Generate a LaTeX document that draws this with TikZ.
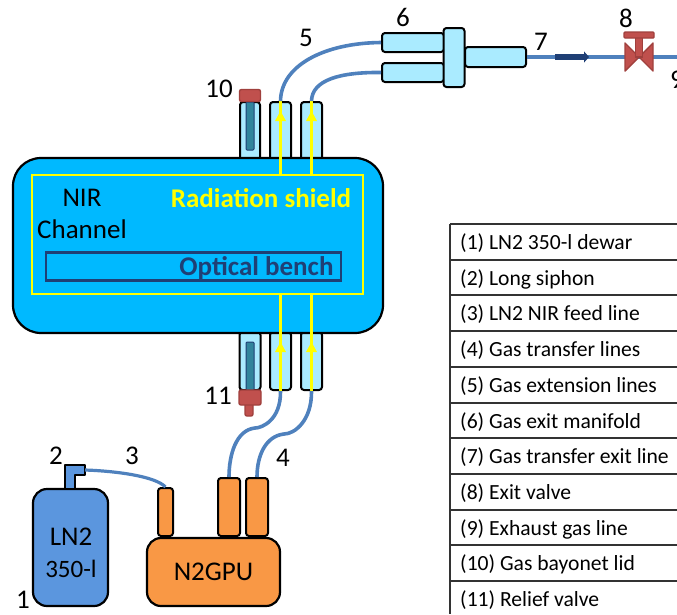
\documentclass[tikz,border=0pt]{standalone}
\usepackage{fontspec}
\setmainfont{Carlito}
\usetikzlibrary{arrows.meta}
\definecolor{bodyc}{HTML}{00B9FF}
\definecolor{stubc}{HTML}{AAEBFF}
\definecolor{pipec}{HTML}{4F81BD}
\definecolor{dewarc}{HTML}{5B96DE}
\definecolor{orangec}{HTML}{F99845}
\definecolor{redc}{HTML}{C0504D}
\definecolor{redd}{HTML}{A0403D}
\definecolor{tealc}{HTML}{31859C}
\definecolor{navyc}{HTML}{1F3F75}
\definecolor{yellowc}{HTML}{FFFF00}
\tikzset{
  x=1pt,y=-1pt,
  box/.style={draw=black,line width=2pt,rounded corners=#1},
  box/.default=3pt,
  stubbox/.style={box,fill=stubc},
  orangebox/.style={box,fill=orangec},
  pipe/.style={draw=pipec,line width=3.6pt},
  thinpipe/.style={draw=pipec,line width=3.2pt},
  shield/.style={draw=yellowc,line width=2.8pt},
  yhead/.style={fill=yellowc,draw=none},
  redpart/.style={fill=redc,draw=redd,line width=1.4pt},
  tealpart/.style={fill=tealc,draw=navyc,line width=1pt},
  lbl/.style={font=\fontsize{27}{31}\selectfont,inner sep=0pt,text=black},
  rowtxt/.style={font=\fontsize{21.6}{25}\selectfont,inner sep=0pt,anchor=west,text=black},
  rowline/.style={draw=black!80,line width=1.3pt}
}
\begin{document}
\begin{tikzpicture}
\useasboundingbox (0,0) rectangle (677,614);
\clip (0,0) rectangle (677,614);
% upper stubs
\node[stubbox,minimum width=20pt,minimum height=58pt,inner sep=0pt] (lid) at (250,131) {};
\node[stubbox,minimum width=21pt,minimum height=58pt,inner sep=0pt] (ut1) at (280.5,131) {};
\node[stubbox,minimum width=21pt,minimum height=58pt,inner sep=0pt] (ut2) at (311.5,131) {};
\node[tealpart,minimum width=8pt,minimum height=48pt,inner sep=0pt,rounded corners=1pt] (lidrod) at (250,126) {};
\node[redpart,minimum width=21pt,minimum height=12pt,inner sep=0pt,rounded corners=2pt] (lidcap) at (250,95.5) {};
% lower stubs
\node[stubbox,minimum width=21pt,minimum height=58pt,inner sep=0pt] (rel) at (250,361) {};
\node[stubbox,minimum width=21pt,minimum height=58pt,inner sep=0pt] (lt1) at (280.5,361) {};
\node[stubbox,minimum width=21pt,minimum height=58pt,inner sep=0pt] (lt2) at (311.5,361) {};
\node[tealpart,minimum width=8pt,minimum height=48pt,inner sep=0pt,rounded corners=1pt] (relrod) at (250,366) {};
\node[redpart,minimum width=8pt,minimum height=14pt,inner sep=0pt,rounded corners=2pt] (relpin) at (249,409) {};
\node[redpart,minimum width=22pt,minimum height=15pt,inner sep=0pt,rounded corners=2pt] (relcap) at (250,397.5) {};
% body
\node[draw=black,line width=2.2pt,fill=bodyc,rounded corners=28pt,minimum width=370pt,minimum height=175pt,inner sep=0pt] (body) at (198,245.5) {};
\node[shield,minimum width=331pt,minimum height=119pt,inner sep=0pt] (shieldbox) at (197.5,234.5) {};
\node[draw=navyc,line width=2.2pt,minimum width=295pt,minimum height=28pt,inner sep=0pt] (bench) at (193.5,266.5) {};
\node[inner sep=0pt,font=\fontsize{27}{31}\selectfont] (nir) at (82,198) {NIR};
\node[inner sep=0pt,font=\fontsize{27}{31}\selectfont] (chan) at (82,229.5) {Channel};
\node[inner sep=0pt,font=\bfseries\fontsize{27}{31}\selectfont,text=yellowc] (rad) at (261,198.5) {Radiation shield};
\node[inner sep=0pt,font=\bfseries\fontsize{27}{31}\selectfont,text=navyc] (opt) at (256.5,268) {Optical bench};
% yellow shield lines
\coordinate (s1t) at (280.5,175); \coordinate (s2t) at (311.5,175);
\coordinate (s1b) at (280.5,294); \coordinate (s2b) at (311.5,294);
\draw[shield] (s1t) -- (ut1.north);
\draw[shield] (s2t) -- (ut2.north);
\draw[shield] (s1b) -- (lt1.south);
\draw[shield] (s2b) -- (lt2.south);
\foreach \xx/\yy in {280.5/111,311.5/111,280.5/342,311.5/342}{
  \fill[yhead] (\xx,\yy) -- (\xx+5.5,\yy+10) -- (\xx-5.5,\yy+10) -- cycle;
}
% manifold
\node[stubbox,minimum width=62pt,minimum height=19pt,inner sep=0pt] (m1) at (413,42.5) {};
\node[stubbox,minimum width=62pt,minimum height=19pt,inner sep=0pt] (m2) at (413,72.5) {};
\node[stubbox,minimum width=61pt,minimum height=20pt,inner sep=0pt] (m4) at (495.5,57) {};
\node[stubbox,minimum width=21pt,minimum height=59pt,inner sep=0pt] (m3) at (454,57.5) {};
% pipes upper
\draw[pipe] (ut1.north) .. controls (281,65) and (325,43) .. (m1.west);
\draw[pipe] (ut2.north) .. controls (312,80) and (340,72) .. (m2.west);
% valve
\coordinate (vc) at (639,57);
\coordinate (exitend) at (677,57);
\draw[thinpipe] (m4.east) -- (vc);
\draw[thinpipe] (vc) -- (exitend);
\coordinate (af) at (555,57); \coordinate (at) at (589,57);
\draw[navyc,line width=5.5pt,-{Triangle[length=5pt,width=11pt]}] (af) -- (at);
\fill[redc,draw=redd,line width=1.4pt,line join=round] (625,43) -- (653,71) -- (653,43) -- (625,71) -- cycle;
\node[redpart,minimum width=7pt,minimum height=20pt,inner sep=0pt] (vstem) at (639,47) {};
\node[redpart,minimum width=30pt,minimum height=6pt,inner sep=0pt,rounded corners=1pt] (vbar) at (639,35) {};
% gas pumping unit
\node[orangebox,minimum width=15pt,minimum height=48pt,inner sep=0pt] (g0) at (165.5,512) {};
\node[orangebox,minimum width=22pt,minimum height=58pt,inner sep=0pt] (g1) at (229,507) {};
\node[orangebox,minimum width=22pt,minimum height=58pt,inner sep=0pt] (g2) at (257,507) {};
\node[draw=black,line width=2.2pt,fill=orangec,rounded corners=14pt,minimum width=133pt,minimum height=68pt,inner sep=0pt,font=\fontsize{27}{31}\selectfont] (gpu) at (213.5,572) {N2GPU};
% dewar
\node[draw=black,line width=2.2pt,fill=dewarc,rounded corners=14pt,minimum width=75pt,minimum height=117pt,inner sep=0pt] (dewar) at (70.5,547.5) {};
\node[inner sep=0pt,font=\fontsize{27}{31}\selectfont] (lntxt) at (71,537) {LN2};
\node[inner sep=0pt,font=\fontsize{25}{29}\selectfont] (voltxt) at (71,569) {350-l};
\fill[dewarc,draw=black,line width=2pt,line join=round] (65,489) -- (65,465) -- (85,465) -- (85,475) -- (75,475) -- (75,489) -- cycle;
\coordinate (sipout) at (85,470);
\draw[thinpipe] (sipout) .. controls (115,471) and (155,476) .. (g0.north);
% lower pipes
\draw[pipe] (lt1.south) .. controls (281,420) and (262,428) .. (255,428) .. controls (236,430) and (229,455) .. (g1.north);
\draw[pipe] (lt2.south) .. controls (312,420) and (295,434) .. (284,434) .. controls (266,436) and (257,455) .. (g2.north);
% numbers
\node[lbl] (n1) at (23,600) {1};
\node[lbl] (n2) at (56,456) {2};
\node[lbl] (n3) at (132,456) {3};
\node[lbl] (n4) at (283,458) {4};
\node[lbl] (n5) at (306,38) {5};
\node[lbl] (n6) at (403,17) {6};
\node[lbl] (n7) at (541,42) {7};
\node[lbl] (n8) at (626,18) {8};
\node[lbl] (n9) at (677,80) {9};
\node[lbl] (n10) at (219,89) {10};
\node[lbl] (n11) at (218,396) {11};
% table
\foreach \yy in {224,260,295,331,367,403,438,474,510,545,581}{
  \draw[rowline] (450,\yy) -- (677,\yy);
}
\draw[rowline] (450,224) -- (450,614);
\foreach \yy/\tx in {243/{(1) LN2 350-l dewar},279/{(2) Long siphon},314/{(3) LN2 NIR feed line},350/{(4) Gas transfer lines},386/{(5) Gas extension lines},422/{(6) Gas exit manifold},457/{(7) Gas transfer exit line},493/{(8) Exit valve},529/{(9) Exhaust gas line},564/{(10) Gas bayonet lid},600/{(11) Relief valve}}{
  \node[rowtxt] at (460,\yy) {\tx};
}
\end{tikzpicture}
\end{document}
